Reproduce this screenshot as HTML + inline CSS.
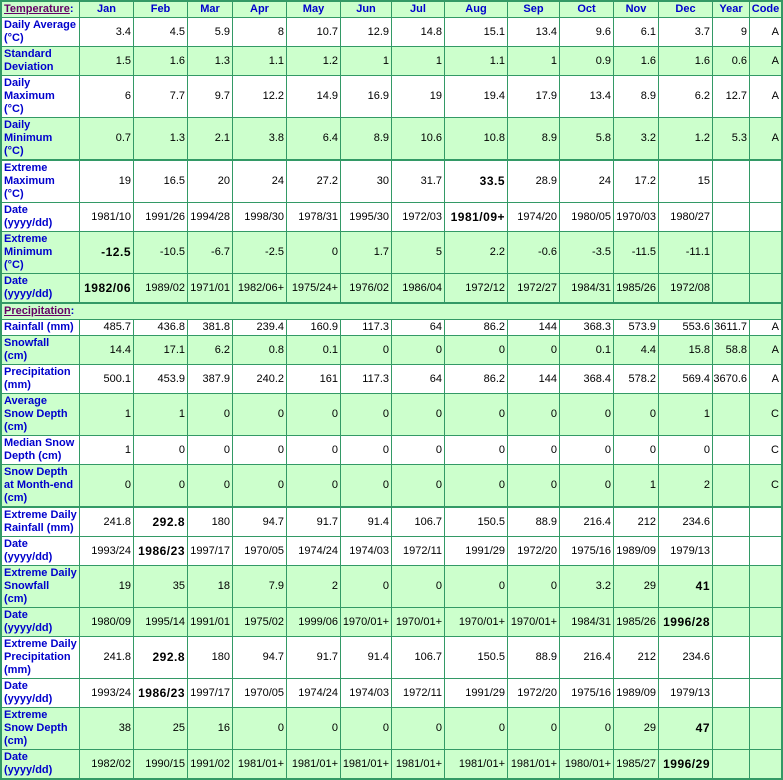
<!DOCTYPE html>
<html>
<head>
<meta charset="utf-8">
<style>
html,body{margin:0;padding:0;background:#fff}
#g{position:absolute;left:0;top:0;width:783px;height:780px;box-sizing:border-box;padding:2px;background:#339966;display:grid;
grid-template-columns:77px 53px 53px 44px 53px 53px 50px 52px 62px 51px 53px 44px 53px 36px 31px;
grid-template-rows:15px 28px 28px 41px 41px 42px 28px 41px 28px 16px 15px 28px 28px 41px 28px 41px 29px 28px 41px 28px 41px 28px 41px 28px;
gap:1px;font:11px/13px "Liberation Sans",Arial,sans-serif;}
.r{display:contents}
.r>div{background:#fff;display:flex;align-items:center;justify-content:flex-end;padding-right:2px;white-space:nowrap;overflow:hidden;color:#000}
.g>div{background:#ccffcc}
.t>div{margin-top:1px}
.h>div{justify-content:center;font-weight:bold;color:#0000cc;padding:0}
.r>div:first-child{justify-content:flex-start;padding:0 0 0 2px;font-weight:bold;color:#0000cc}
b{letter-spacing:.5px;font-size:12px}
u{color:#660066}
.sp{grid-column:1/-1}
</style>
</head>
<body>
<div id="g">
<div class="r g h"><div><span><u>Temperature</u>:</span></div><div>Jan</div><div>Feb</div><div>Mar</div><div>Apr</div><div>May</div><div>Jun</div><div>Jul</div><div>Aug</div><div>Sep</div><div>Oct</div><div>Nov</div><div>Dec</div><div>Year</div><div>Code</div></div>

<div class="r"><div><span>Daily Average<br>(°C)</span></div><div>3.4</div><div>4.5</div><div>5.9</div><div>8</div><div>10.7</div><div>12.9</div><div>14.8</div><div>15.1</div><div>13.4</div><div>9.6</div><div>6.1</div><div>3.7</div><div>9</div><div>A</div></div>

<div class="r g"><div><span>Standard<br>Deviation</span></div><div>1.5</div><div>1.6</div><div>1.3</div><div>1.1</div><div>1.2</div><div>1</div><div>1</div><div>1.1</div><div>1</div><div>0.9</div><div>1.6</div><div>1.6</div><div>0.6</div><div>A</div></div>

<div class="r"><div><span>Daily<br>Maximum<br>(°C)</span></div><div>6</div><div>7.7</div><div>9.7</div><div>12.2</div><div>14.9</div><div>16.9</div><div>19</div><div>19.4</div><div>17.9</div><div>13.4</div><div>8.9</div><div>6.2</div><div>12.7</div><div>A</div></div>

<div class="r g"><div><span>Daily<br>Minimum<br>(°C)</span></div><div>0.7</div><div>1.3</div><div>2.1</div><div>3.8</div><div>6.4</div><div>8.9</div><div>10.6</div><div>10.8</div><div>8.9</div><div>5.8</div><div>3.2</div><div>1.2</div><div>5.3</div><div>A</div></div>

<div class="r t"><div><span>Extreme<br>Maximum<br>(°C)</span></div><div>19</div><div>16.5</div><div>20</div><div>24</div><div>27.2</div><div>30</div><div>31.7</div><div><b>33.5</b></div><div>28.9</div><div>24</div><div>17.2</div><div>15</div><div></div><div></div></div>

<div class="r"><div><span>Date<br>(yyyy/dd)</span></div><div>1981/10</div><div>1991/26</div><div>1994/28</div><div>1998/30</div><div>1978/31</div><div>1995/30</div><div>1972/03</div><div><b>1981/09+</b></div><div>1974/20</div><div>1980/05</div><div>1970/03</div><div>1980/27</div><div></div><div></div></div>

<div class="r g"><div><span>Extreme<br>Minimum<br>(°C)</span></div><div><b>-12.5</b></div><div>-10.5</div><div>-6.7</div><div>-2.5</div><div>0</div><div>1.7</div><div>5</div><div>2.2</div><div>-0.6</div><div>-3.5</div><div>-11.5</div><div>-11.1</div><div></div><div></div></div>

<div class="r g"><div><span>Date<br>(yyyy/dd)</span></div><div><b>1982/06</b></div><div>1989/02</div><div>1971/01</div><div>1982/06+</div><div>1975/24+</div><div>1976/02</div><div>1986/04</div><div>1972/12</div><div>1972/27</div><div>1984/31</div><div>1985/26</div><div>1972/08</div><div></div><div></div></div>

<div class="r g t"><div class="sp"><span><u>Precipitation</u>:</span></div></div>

<div class="r"><div><span>Rainfall (mm)</span></div><div>485.7</div><div>436.8</div><div>381.8</div><div>239.4</div><div>160.9</div><div>117.3</div><div>64</div><div>86.2</div><div>144</div><div>368.3</div><div>573.9</div><div>553.6</div><div>3611.7</div><div>A</div></div>

<div class="r g"><div><span>Snowfall<br>(cm)</span></div><div>14.4</div><div>17.1</div><div>6.2</div><div>0.8</div><div>0.1</div><div>0</div><div>0</div><div>0</div><div>0</div><div>0.1</div><div>4.4</div><div>15.8</div><div>58.8</div><div>A</div></div>

<div class="r"><div><span>Precipitation<br>(mm)</span></div><div>500.1</div><div>453.9</div><div>387.9</div><div>240.2</div><div>161</div><div>117.3</div><div>64</div><div>86.2</div><div>144</div><div>368.4</div><div>578.2</div><div>569.4</div><div>3670.6</div><div>A</div></div>

<div class="r g"><div><span>Average<br>Snow Depth<br>(cm)</span></div><div>1</div><div>1</div><div>0</div><div>0</div><div>0</div><div>0</div><div>0</div><div>0</div><div>0</div><div>0</div><div>0</div><div>1</div><div></div><div>C</div></div>

<div class="r"><div><span>Median Snow<br>Depth (cm)</span></div><div>1</div><div>0</div><div>0</div><div>0</div><div>0</div><div>0</div><div>0</div><div>0</div><div>0</div><div>0</div><div>0</div><div>0</div><div></div><div>C</div></div>

<div class="r g"><div><span>Snow Depth<br>at Month-end<br>(cm)</span></div><div>0</div><div>0</div><div>0</div><div>0</div><div>0</div><div>0</div><div>0</div><div>0</div><div>0</div><div>0</div><div>1</div><div>2</div><div></div><div>C</div></div>

<div class="r t"><div><span>Extreme Daily<br>Rainfall (mm)</span></div><div>241.8</div><div><b>292.8</b></div><div>180</div><div>94.7</div><div>91.7</div><div>91.4</div><div>106.7</div><div>150.5</div><div>88.9</div><div>216.4</div><div>212</div><div>234.6</div><div></div><div></div></div>

<div class="r"><div><span>Date<br>(yyyy/dd)</span></div><div>1993/24</div><div><b>1986/23</b></div><div>1997/17</div><div>1970/05</div><div>1974/24</div><div>1974/03</div><div>1972/11</div><div>1991/29</div><div>1972/20</div><div>1975/16</div><div>1989/09</div><div>1979/13</div><div></div><div></div></div>

<div class="r g"><div><span>Extreme Daily<br>Snowfall<br>(cm)</span></div><div>19</div><div>35</div><div>18</div><div>7.9</div><div>2</div><div>0</div><div>0</div><div>0</div><div>0</div><div>3.2</div><div>29</div><div><b>41</b></div><div></div><div></div></div>

<div class="r g"><div><span>Date<br>(yyyy/dd)</span></div><div>1980/09</div><div>1995/14</div><div>1991/01</div><div>1975/02</div><div>1999/06</div><div>1970/01+</div><div>1970/01+</div><div>1970/01+</div><div>1970/01+</div><div>1984/31</div><div>1985/26</div><div><b>1996/28</b></div><div></div><div></div></div>

<div class="r"><div><span>Extreme Daily<br>Precipitation<br>(mm)</span></div><div>241.8</div><div><b>292.8</b></div><div>180</div><div>94.7</div><div>91.7</div><div>91.4</div><div>106.7</div><div>150.5</div><div>88.9</div><div>216.4</div><div>212</div><div>234.6</div><div></div><div></div></div>

<div class="r"><div><span>Date<br>(yyyy/dd)</span></div><div>1993/24</div><div><b>1986/23</b></div><div>1997/17</div><div>1970/05</div><div>1974/24</div><div>1974/03</div><div>1972/11</div><div>1991/29</div><div>1972/20</div><div>1975/16</div><div>1989/09</div><div>1979/13</div><div></div><div></div></div>

<div class="r g"><div><span>Extreme<br>Snow Depth<br>(cm)</span></div><div>38</div><div>25</div><div>16</div><div>0</div><div>0</div><div>0</div><div>0</div><div>0</div><div>0</div><div>0</div><div>29</div><div><b>47</b></div><div></div><div></div></div>

<div class="r g"><div><span>Date<br>(yyyy/dd)</span></div><div>1982/02</div><div>1990/15</div><div>1991/02</div><div>1981/01+</div><div>1981/01+</div><div>1981/01+</div><div>1981/01+</div><div>1981/01+</div><div>1981/01+</div><div>1980/01+</div><div>1985/27</div><div><b>1996/29</b></div><div></div><div></div></div>
</div>
</body>
</html>
